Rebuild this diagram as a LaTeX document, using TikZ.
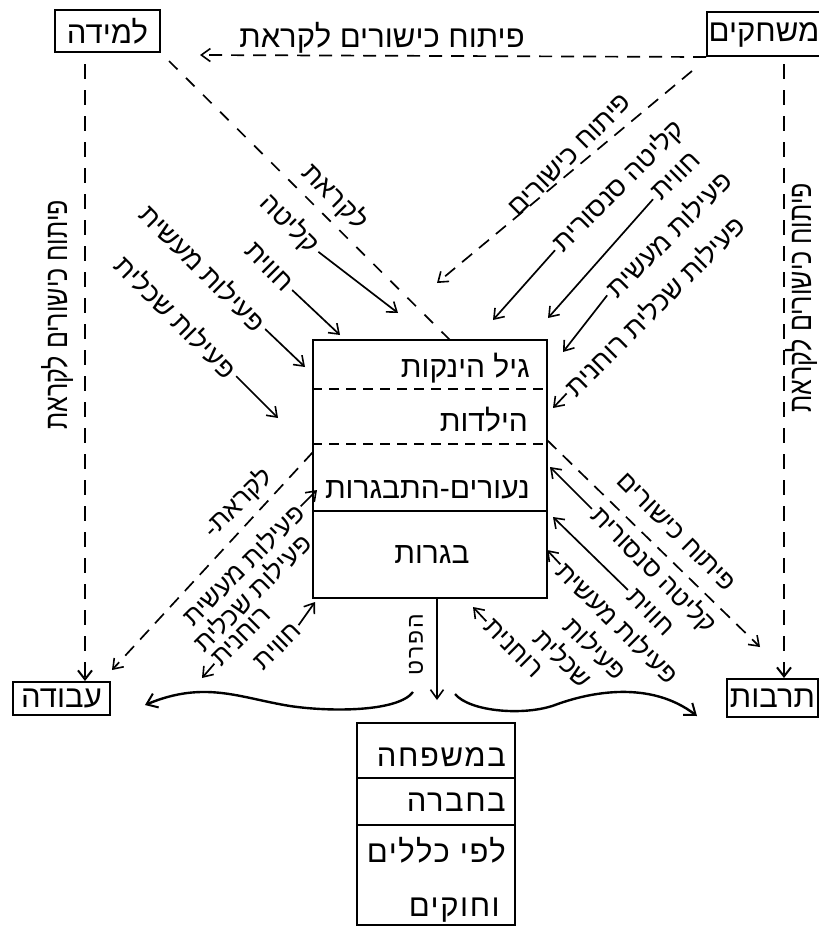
\documentclass[tikz,border=0pt]{standalone}
\usepackage{fontspec}
\usetikzlibrary{arrows.meta,calc}
\TeXXeTstate=1
\newfontfamily\hbf[Script=Hebrew]{Liberation Sans}
\newfontfamily\hbfam[Script=Hebrew,LetterSpace=5]{Liberation Sans}
\newfontfamily\hbside[Script=Hebrew,FakeStretch=0.78]{Liberation Sans}
\newfontfamily\hbprat[Script=Hebrew,LetterSpace=8]{Liberation Sans}
\newcommand\hb[1]{\beginR #1\endR}
\begin{document}
\begin{tikzpicture}[x=1pt,y=-1pt,
  boxt/.style={font=\hbf\fontsize{31}{33}\selectfont, inner sep=0pt},
  aget/.style={font=\hbf\fontsize{30}{32}\selectfont, inner sep=0pt},
  famt/.style={font=\hbfam\fontsize{31}{33}\selectfont, inner sep=0pt},
  diag/.style={font=\hbf\fontsize{27}{29}\selectfont, inner sep=1pt},
  diagl/.style={font=\hbf\fontsize{26}{28}\selectfont, inner sep=1pt},
  side/.style={font=\hbside\fontsize{32}{34}\selectfont, inner sep=0pt},
  frame/.style={draw, line width=2pt, inner sep=0pt},
  arr/.style={line width=1.7pt, -{Straight Barb[length=9pt,width=13pt,line width=1.6pt]}},
  darr/.style={arr, dash pattern=on 13pt off 9pt},
  dln/.style={line width=1.7pt, dash pattern=on 12pt off 12pt},
  vdash/.style={line width=2.4pt, dash pattern=on 15pt off 11pt, -{Straight Barb[length=9pt,width=14pt,line width=2pt]}},
  divd/.style={line width=1.8pt, dash pattern=on 10pt off 7pt},
  brace/.style={line width=2.4pt, -{Straight Barb[length=10pt,width=15pt,line width=2pt]}},
]
\useasboundingbox (0,0) rectangle (819,927);

% ---------- boxes ----------
\node[frame, boxt, minimum width=105pt, minimum height=42pt] (lemida) at (107.5,31) {\hb{למידה}};
\node[frame, minimum width=125pt, minimum height=44pt] (mish) at (769.5,34) {};
\node[boxt] (mishT) at (764,35) {\hb{משחקים}};
\node[frame, boxt, minimum width=97pt, minimum height=33pt] (avoda) at (61.5,698.5) {\hb{עבודה}};
\node[frame, boxt, minimum width=91pt, minimum height=38pt] (tarbut) at (772.5,698) {\hb{תרבות}};

% central box
\node[frame, minimum width=234pt, minimum height=258pt] (age) at (430,469) {};
\draw[divd] (age.west |- 0,389) -- (age.east |- 0,389);
\draw[divd] (age.west |- 0,444) -- (age.east |- 0,444);
\draw[line width=1.8pt] (age.west |- 0,511) -- (age.east |- 0,511);
\node[aget, anchor=east] (t1) at (530,368) {\hb{גיל הינקות}};
\node[aget, anchor=east] (t2) at (528,420) {\hb{הילדות}};
\node[aget, anchor=east] (t3) at (530,490) {\hb{נעורים-התבגרות}};
\node[aget] (t4) at (432,555) {\hb{בגרות}};

% bottom box
\node[frame, minimum width=158pt, minimum height=202pt] (fam) at (436,824) {};
\draw[line width=1.8pt] (fam.west |- 0,778) -- (fam.east |- 0,778);
\draw[line width=1.8pt] (fam.west |- 0,825) -- (fam.east |- 0,825);
\node[famt, anchor=east] (f1) at (506,757) {\hb{במשפחה}};
\node[famt, anchor=east] (f2) at (506,802) {\hb{בחברה}};
\node[famt, anchor=east] (f3) at (506,850) {\hb{לפי כללים}};
\node[famt, anchor=east] (f4) at (500,910) {\hb{וחוקים}};

% ---------- top and side connectors ----------
\node[boxt] (topT) at (382,38) {\hb{פיתוח כישורים לקראת}};
\coordinate (tl) at (200,55);
\draw[darr] (mish.south west) -- (tl);

\node[side, rotate=90] (lside) at (57,315) {\hb{פיתוח כישורים לקראת}};
\node[side, rotate=90] (rside) at (801,298) {\hb{פיתוח כישורים לקראת}};
\coordinate (lv) at (85,64);
\coordinate (rv) at (784,64);
\draw[vdash] (lv) -- (lv |- avoda.north);
\draw[vdash] (rv) -- (rv |- tarbut.north);

% ---------- upper-left group ----------
\coordinate (ule) at (450,340);
\draw[dln] ($(lemida.south east)+(8,8)$) -- (ule);
\node[diag, rotate=-45] (ul1) at (335,197) {\hb{לקראת}};
\node[diag, rotate=-45, anchor=east] (ul2) at (316,250) {\hb{קליטה}};
\node[diag, rotate=-45, anchor=east] (ul3) at (290,288) {\hb{חווית}};
\node[diag, rotate=-45, anchor=east] (ul4) at (263,327) {\hb{פעילות מעשית}};
\node[diag, rotate=-45, anchor=east] (ul5) at (234,374) {\hb{פעילות שכלית}};
\coordinate (ua2) at (398,313);
\coordinate (ua3) at (340,335);
\coordinate (ua4) at (305,367);
\coordinate (ua5) at (278,418);
\draw[arr, shorten <=3pt] (ul2.east) -- (ua2);
\draw[arr, shorten <=3pt] (ul3.east) -- (ua3);
\draw[arr, shorten <=3pt] (ul4.east) -- (ua4);
\draw[arr, shorten <=3pt] (ul5.east) -- (ua5);

% ---------- upper-right group ----------
\coordinate (ure) at (437,283);
\draw[darr] ($(mish.south west)+(-14,14)$) -- (ure);
\node[diag, rotate=45] (ur1) at (570,155) {\hb{פיתוח כישורים}};
\node[diag, rotate=45, anchor=west] (ur2) at (557,248) {\hb{קליטה סנסורית}};
\node[diag, rotate=45, anchor=west] (ur3) at (655,197) {\hb{חווית}};
\node[diag, rotate=45, anchor=west] (ur4) at (609,293) {\hb{פעילות מעשית}};
\node[diag, rotate=45, anchor=west] (ur5) at (568,392) {\hb{פעילות שכלית רוחנית}};
\coordinate (ra2) at (493,320);
\coordinate (ra3) at (548,318);
\coordinate (ra4) at (563,352);
\coordinate (ra5) at (553,408);
\draw[arr, shorten <=3pt] (ur2.west) -- (ra2);
\draw[arr, shorten <=3pt] (ur3.west) -- (ra3);
\draw[arr, shorten <=3pt] (ur4.west) -- (ra4);
\draw[arr, shorten <=2pt] (ur5.west) -- (ra5);

% ---------- lower-left group ----------
\coordinate (lls) at (313,452);
\coordinate (lle) at (112,670);
\draw[darr] (lls) -- (lle);
\node[diagl, rotate=45] (ll1) at (238,503) {\hb{לקראת-}};
\node[diagl, rotate=45, anchor=east] (ll2) at (300,507) {\hb{פעילות מעשית}};
\node[diagl, rotate=45, anchor=east] (ll3) at (307,537) {\hb{פעילות שכלית}};
\node[diagl, rotate=45, anchor=west] (ll4) at (215,663) {\hb{רוחנית}};
\node[diagl, rotate=45, anchor=east] (ll5) at (298,626) {\hb{חווית}};
\coordinate (la2) at (317,490);
\coordinate (la4) at (202,678);
\coordinate (la5) at (315,602);
\draw[arr, shorten <=1pt] (ll2.east) -- (la2);
\draw[arr, shorten <=1pt] (ll4.west) -- (la4);
\draw[arr, shorten <=1pt] (ll5.east) -- (la5);

% ---------- lower-right group ----------
\coordinate (lrs) at (547,440);
\coordinate (lre) at (760,647);
\draw[darr] (lrs) -- (lre);
\node[diagl, rotate=-45] (lr1) at (676,532) {\hb{פיתוח כישורים}};
\node[diagl, rotate=-45, anchor=west] (lr2) at (594,511) {\hb{קליטה סנסורית}};
\node[diagl, rotate=-45, anchor=west] (lr3) at (630,592) {\hb{חווית}};
\node[diagl, rotate=-45, anchor=west] (lr4) at (561,565) {\hb{פעילות מעשית}};
\node[diagl, rotate=-45, anchor=west] (lr5a) at (568,620) {\hb{פעילות}};
\node[diagl, rotate=-45, anchor=west] (lr5b) at (538,632) {\hb{שכלית}};
\node[diagl, rotate=-45, anchor=west] (lr5c) at (487,622) {\hb{רוחנית}};
\coordinate (sa2) at (550,467);
\coordinate (sa3) at (553,517);
\coordinate (sa4) at (547,550);
\coordinate (sa5) at (473,607);
\draw[arr, shorten <=3pt] (lr2.west) -- (sa2);
\draw[arr, shorten <=3pt] (lr3.west) -- (sa3);
\draw[arr, shorten <=1pt] (lr4.west) -- (sa4);
\draw[arr, shorten <=1pt] (lr5c.west) -- (sa5);

% ---------- individual arrow and brace ----------
\node[rotate=90, inner sep=0pt, font=\hbprat\fontsize{23}{25}\selectfont] (prat) at (416,645) {\hb{הפרט}};
\coordinate (pt) at (437,700);
\draw[arr] (age.south -| pt) -- (pt);

\coordinate (bl0) at (413,692);
\coordinate (bl1) at (145,705);
\coordinate (br0) at (455,694);
\coordinate (br1) at (697,716);
\draw[brace] (bl0) .. controls (398,712) and (330,712) .. (290,706) .. controls (240,698) and (205,680) .. (bl1);
\draw[brace] (br0) .. controls (470,712) and (525,716) .. (555,705) .. controls (590,692) and (650,680) .. (br1);
\end{tikzpicture}
\end{document}
